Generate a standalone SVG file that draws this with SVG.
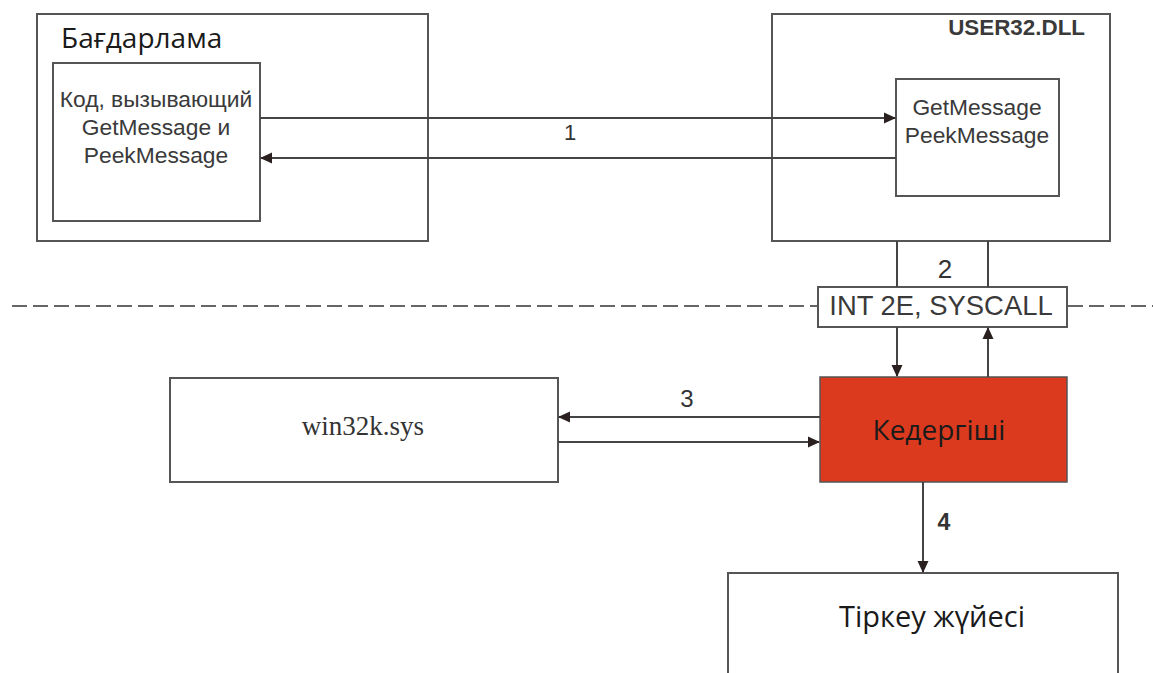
<svg xmlns="http://www.w3.org/2000/svg" width="1153" height="673" viewBox="0 0 1153 673">
<defs>
<marker id="ah" markerWidth="12" markerHeight="12" refX="11" refY="6" orient="auto" markerUnits="userSpaceOnUse">
<path d="M0,0.5 L12,6 L0,11.5 Z" fill="#2a2020"/>
</marker>
<style>
.box{fill:#fff;stroke:#555;stroke-width:2}
.ln{fill:none;stroke:#444;stroke-width:2}
.ar{fill:none;stroke:#444;stroke-width:2;marker-end:url(#ah)}
.sans{font-family:"Liberation Sans",Arial,sans-serif;fill:#3a3a3a}
.open{font-family:"Open Sans","Noto Sans",sans-serif;fill:#1a1a1a}
.num{font-family:"Liberation Sans",Arial,sans-serif;fill:#333;text-anchor:middle}
</style>
</defs>
<rect width="1153" height="673" fill="#fff"/>
<g id="divider">
<line x1="12" y1="306" x2="818" y2="306" stroke="#666" stroke-width="2" stroke-dasharray="15 6"/>
<line x1="1068" y1="306" x2="1153" y2="306" stroke="#666" stroke-width="2" stroke-dasharray="15 6"/>
</g>
<g id="program">
<rect class="box" x="37" y="14" width="391" height="227"/>
<text class="open" x="61" y="48" font-size="28">Бағдарлама</text>
</g>
<g id="caller">
<rect class="box" x="53" y="63" width="207" height="158"/>
<text class="sans" x="156" y="107" font-size="22.8" text-anchor="middle">Код, вызывающий</text>
<text class="sans" x="156" y="135" font-size="22.8" text-anchor="middle">GetMessage и</text>
<text class="sans" x="156" y="163" font-size="22.8" text-anchor="middle">PeekMessage</text>
</g>
<g id="user32">
<rect class="box" x="772" y="14" width="338" height="227"/>
<text class="sans" x="1085" y="35" font-size="22.4" font-weight="bold" text-anchor="end">USER32.DLL</text>
</g>
<g id="getmessage">
<rect class="box" x="896" y="79" width="163" height="117"/>
<text class="sans" x="977" y="115" font-size="22.8" text-anchor="middle">GetMessage</text>
<text class="sans" x="977" y="143" font-size="22.8" text-anchor="middle">PeekMessage</text>
</g>
<g id="syscall">
<rect class="box" x="818" y="287" width="249" height="40"/>
<text class="sans" x="941" y="315" font-size="27.4" text-anchor="middle">INT 2E, SYSCALL</text>
</g>
<g id="interceptor">
<rect x="820" y="377" width="247" height="105" fill="#dc3a1e" stroke="#555" stroke-width="1.5"/>
<text class="open" x="939" y="440" font-size="28" text-anchor="middle">Кедергіші</text>
</g>
<g id="win32k">
<rect class="box" x="170" y="378" width="388" height="104"/>
<text x="363" y="435" font-family="'Liberation Serif','Times New Roman',serif" font-size="27" fill="#333" text-anchor="middle">win32k.sys</text>
</g>
<g id="logger">
<path class="box" d="M728,673 L728,573 L1118,573 L1118,673"/>
<text class="open" x="932" y="627" font-size="29" text-anchor="middle">Тіркеу жүйесі</text>
</g>
<g id="connectors">
<line class="ar" x1="260" y1="118" x2="895" y2="118"/>
<line class="ar" x1="896" y1="158" x2="261" y2="158"/>
<text class="num" x="570" y="140" font-size="22">1</text>
<line class="ln" x1="897" y1="241" x2="897" y2="287"/>
<line class="ln" x1="988" y1="241" x2="988" y2="287"/>
<text class="num" x="945" y="278" font-size="26">2</text>
<line class="ar" x1="897" y1="327" x2="897" y2="376"/>
<line class="ar" x1="988" y1="377" x2="988" y2="328"/>
<line class="ar" x1="820" y1="417" x2="559" y2="417"/>
<line class="ar" x1="558" y1="442" x2="819" y2="442"/>
<text class="num" x="687" y="407" font-size="24">3</text>
<line class="ar" x1="923" y1="482" x2="923" y2="572"/>
<text class="num" x="944" y="530" font-size="23" font-weight="bold">4</text>
</g>
</svg>
